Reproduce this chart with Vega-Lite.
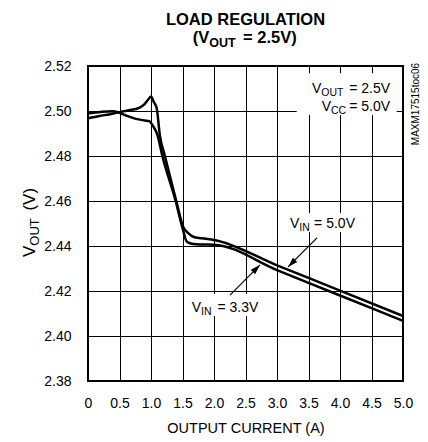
{
  "$schema": "https://vega.github.io/schema/vega-lite/v6.json",
  "width": 315,
  "height": 315,
  "autosize": {"type": "none"},
  "padding": {"left": 88, "top": 66, "right": 25, "bottom": 61},
  "background": "white",
  "title": {"text": "LOAD REGULATION", "fontSize": 16.5, "fontWeight": "bold", "color": "black", "anchor": "middle", "offset": 2},
  "config": {
    "font": "Liberation Sans",
    "view": {"stroke": "black", "strokeWidth": 2},
    "axis": {"domain": false, "ticks": false, "tickSize": 0, "grid": true, "gridColor": "black", "gridWidth": 1, "gridOpacity": 1, "labelColor": "black", "labelFontSize": 14, "titleColor": "black", "titleFontWeight": "normal", "labelFlush": false, "labelOverlap": false},
    "axisX": {"labelPadding": 15, "titleFontSize": 14.5, "titlePadding": 11},
    "axisY": {"labelPadding": 17}
  },
  "layer": [
    {
      "data": {"values": [
        {"x1": 3.313, "x2": 4.9, "y1": 2.4982, "y2": 2.5168},
        {"x1": 3.143, "x2": 4.302, "y1": 2.4462, "y2": 2.4547},
        {"x1": 1.571, "x2": 2.778, "y1": 2.4089, "y2": 2.4187}
      ]},
      "mark": {"type": "rect", "fill": "white", "opacity": 1},
      "encoding": {
        "x": {"field": "x1", "type": "quantitative", "scale": {"domain": [0, 5], "nice": false, "zero": false},
              "axis": {"values": [0, 0.5, 1, 1.5, 2, 2.5, 3, 3.5, 4, 4.5, 5], "labelExpr": "datum.value == 0 ? '0' : format(datum.value, '.1f')", "title": "OUTPUT CURRENT (A)"}},
        "x2": {"field": "x2"},
        "y": {"field": "y1", "type": "quantitative", "scale": {"domain": [2.38, 2.52], "nice": false, "zero": false},
              "axis": {"values": [2.38, 2.4, 2.42, 2.44, 2.46, 2.48, 2.5, 2.52], "format": ".2f", "title": null}},
        "y2": {"field": "y2"}
      }
    },
    {
      "data": {"values": [
        {"current": 0, "vout": 2.4968, "vin": "5.0V"},
        {"current": 0.18, "vout": 2.4978, "vin": "5.0V"},
        {"current": 0.35, "vout": 2.4986, "vin": "5.0V"},
        {"current": 0.5, "vout": 2.4995, "vin": "5.0V"},
        {"current": 0.65, "vout": 2.5003, "vin": "5.0V"},
        {"current": 0.81, "vout": 2.5014, "vin": "5.0V"},
        {"current": 0.89, "vout": 2.5028, "vin": "5.0V"},
        {"current": 0.95, "vout": 2.5049, "vin": "5.0V"},
        {"current": 1.0, "vout": 2.5064, "vin": "5.0V"},
        {"current": 1.04, "vout": 2.5042, "vin": "5.0V"},
        {"current": 1.09, "vout": 2.5013, "vin": "5.0V"},
        {"current": 1.14, "vout": 2.4893, "vin": "5.0V"},
        {"current": 1.22, "vout": 2.48, "vin": "5.0V"},
        {"current": 1.4, "vout": 2.4601, "vin": "5.0V"},
        {"current": 1.51, "vout": 2.4486, "vin": "5.0V"},
        {"current": 1.6, "vout": 2.4455, "vin": "5.0V"},
        {"current": 1.67, "vout": 2.4441, "vin": "5.0V"},
        {"current": 1.8, "vout": 2.4434, "vin": "5.0V"},
        {"current": 2.0, "vout": 2.4427, "vin": "5.0V"},
        {"current": 3.0, "vout": 2.4314, "vin": "5.0V"},
        {"current": 4.0, "vout": 2.4202, "vin": "5.0V"},
        {"current": 5.0, "vout": 2.4089, "vin": "5.0V"},
        {"current": 0, "vout": 2.499, "vin": "3.3V"},
        {"current": 0.2, "vout": 2.4996, "vin": "3.3V"},
        {"current": 0.39, "vout": 2.4999, "vin": "3.3V"},
        {"current": 0.5, "vout": 2.4992, "vin": "3.3V"},
        {"current": 0.62, "vout": 2.4978, "vin": "3.3V"},
        {"current": 0.76, "vout": 2.4965, "vin": "3.3V"},
        {"current": 0.9, "vout": 2.4958, "vin": "3.3V"},
        {"current": 0.97, "vout": 2.4955, "vin": "3.3V"},
        {"current": 1.04, "vout": 2.493, "vin": "3.3V"},
        {"current": 1.1, "vout": 2.4895, "vin": "3.3V"},
        {"current": 1.18, "vout": 2.48, "vin": "3.3V"},
        {"current": 1.39, "vout": 2.4601, "vin": "3.3V"},
        {"current": 1.5, "vout": 2.448, "vin": "3.3V"},
        {"current": 1.57, "vout": 2.4419, "vin": "3.3V"},
        {"current": 1.67, "vout": 2.4409, "vin": "3.3V"},
        {"current": 1.8, "vout": 2.4407, "vin": "3.3V"},
        {"current": 2.0, "vout": 2.4406, "vin": "3.3V"},
        {"current": 3.0, "vout": 2.4293, "vin": "3.3V"},
        {"current": 4.0, "vout": 2.418, "vin": "3.3V"},
        {"current": 5.0, "vout": 2.4067, "vin": "3.3V"}
      ]},
      "mark": {"type": "line", "color": "black", "strokeWidth": 2.5, "interpolate": "monotone"},
      "encoding": {
        "x": {"field": "current", "type": "quantitative", "scale": {"domain": [0, 5], "nice": false, "zero": false},
              "axis": {"values": [0, 0.5, 1, 1.5, 2, 2.5, 3, 3.5, 4, 4.5, 5], "labelExpr": "datum.value == 0 ? '0' : format(datum.value, '.1f')", "title": "OUTPUT CURRENT (A)"}},
        "y": {"field": "vout", "type": "quantitative", "scale": {"domain": [2.38, 2.52], "nice": false, "zero": false},
              "axis": {"values": [2.38, 2.4, 2.42, 2.44, 2.46, 2.48, 2.5, 2.52], "format": ".2f", "title": null}},
        "detail": {"field": "vin"}
      }
    },
    {
      "data": {"values": [
        {"x": 3.635, "y": 2.4436, "x2": 3.175, "y2": 2.4307},
        {"x": 2.254, "y": 2.4182, "x2": 2.73, "y2": 2.4316}
      ]},
      "mark": {"type": "rule", "color": "black", "strokeWidth": 1.2},
      "encoding": {
        "x": {"field": "x", "type": "quantitative", "scale": {"domain": [0, 5], "nice": false, "zero": false},
              "axis": {"values": [0, 0.5, 1, 1.5, 2, 2.5, 3, 3.5, 4, 4.5, 5], "labelExpr": "datum.value == 0 ? '0' : format(datum.value, '.1f')", "title": "OUTPUT CURRENT (A)"}},
        "y": {"field": "y", "type": "quantitative", "scale": {"domain": [2.38, 2.52], "nice": false, "zero": false},
              "axis": {"values": [2.38, 2.4, 2.42, 2.44, 2.46, 2.48, 2.5, 2.52], "format": ".2f", "title": null}},
        "x2": {"field": "x2"},
        "y2": {"field": "y2"}
      }
    },
    {
      "data": {"values": [{"x": 3.175, "y": 2.4307}]},
      "mark": {"type": "point", "shape": "M0,0L0.5,1.6L-0.5,1.6Z", "filled": true, "color": "black", "opacity": 1, "size": 156, "angle": 225, "strokeWidth": 0},
      "encoding": {
        "x": {"field": "x", "type": "quantitative", "scale": {"domain": [0, 5], "nice": false, "zero": false},
              "axis": {"values": [0, 0.5, 1, 1.5, 2, 2.5, 3, 3.5, 4, 4.5, 5], "labelExpr": "datum.value == 0 ? '0' : format(datum.value, '.1f')", "title": "OUTPUT CURRENT (A)"}},
        "y": {"field": "y", "type": "quantitative", "scale": {"domain": [2.38, 2.52], "nice": false, "zero": false},
              "axis": {"values": [2.38, 2.4, 2.42, 2.44, 2.46, 2.48, 2.5, 2.52], "format": ".2f", "title": null}}
      }
    },
    {
      "data": {"values": [{"x": 2.73, "y": 2.4316}]},
      "mark": {"type": "point", "shape": "M0,0L0.5,1.6L-0.5,1.6Z", "filled": true, "color": "black", "opacity": 1, "size": 156, "angle": 45, "strokeWidth": 0},
      "encoding": {
        "x": {"field": "x", "type": "quantitative", "scale": {"domain": [0, 5], "nice": false, "zero": false},
              "axis": {"values": [0, 0.5, 1, 1.5, 2, 2.5, 3, 3.5, 4, 4.5, 5], "labelExpr": "datum.value == 0 ? '0' : format(datum.value, '.1f')", "title": "OUTPUT CURRENT (A)"}},
        "y": {"field": "y", "type": "quantitative", "scale": {"domain": [2.38, 2.52], "nice": false, "zero": false},
              "axis": {"values": [2.38, 2.4, 2.42, 2.44, 2.46, 2.48, 2.5, 2.52], "format": ".2f", "title": null}}
      }
    },
    {
      "data": {"values": [
        {"x_start": 3.556, "x_end": 4.794, "y": 2.508, "v": "V", "sub": "OUT", "rest": " = 2.5V"},
        {"x_start": 3.709, "x_end": 4.794, "y": 2.5001, "v": "V", "sub": "CC", "rest": " = 5.0V"},
        {"x_start": 3.206, "x_end": 4.238, "y": 2.4479, "v": "V", "sub": "IN", "rest": " = 5.0V"},
        {"x_start": 1.646, "x_end": 2.703, "y": 2.4108, "v": "V", "sub": "IN", "rest": " = 3.3V"}
      ]},
      "layer": [
        {
          "mark": {"type": "text", "align": "left", "baseline": "alphabetic", "fontSize": 14, "color": "black"},
          "encoding": {
            "x": {"field": "x_start", "type": "quantitative", "scale": {"domain": [0, 5], "nice": false, "zero": false},
                  "axis": {"values": [0, 0.5, 1, 1.5, 2, 2.5, 3, 3.5, 4, 4.5, 5], "labelExpr": "datum.value == 0 ? '0' : format(datum.value, '.1f')", "title": "OUTPUT CURRENT (A)"}},
            "y": {"field": "y", "type": "quantitative", "scale": {"domain": [2.38, 2.52], "nice": false, "zero": false},
                  "axis": {"values": [2.38, 2.4, 2.42, 2.44, 2.46, 2.48, 2.5, 2.52], "format": ".2f", "title": null}},
            "text": {"field": "v"}
          }
        },
        {
          "mark": {"type": "text", "align": "left", "baseline": "alphabetic", "fontSize": 10.5, "dx": 9.3, "dy": 3, "color": "black"},
          "encoding": {
            "x": {"field": "x_start", "type": "quantitative", "scale": {"domain": [0, 5], "nice": false, "zero": false},
                  "axis": {"values": [0, 0.5, 1, 1.5, 2, 2.5, 3, 3.5, 4, 4.5, 5], "labelExpr": "datum.value == 0 ? '0' : format(datum.value, '.1f')", "title": "OUTPUT CURRENT (A)"}},
            "y": {"field": "y", "type": "quantitative", "scale": {"domain": [2.38, 2.52], "nice": false, "zero": false},
                  "axis": {"values": [2.38, 2.4, 2.42, 2.44, 2.46, 2.48, 2.5, 2.52], "format": ".2f", "title": null}},
            "text": {"field": "sub"}
          }
        },
        {
          "mark": {"type": "text", "align": "right", "baseline": "alphabetic", "fontSize": 14, "color": "black"},
          "encoding": {
            "x": {"field": "x_end", "type": "quantitative", "scale": {"domain": [0, 5], "nice": false, "zero": false},
                  "axis": {"values": [0, 0.5, 1, 1.5, 2, 2.5, 3, 3.5, 4, 4.5, 5], "labelExpr": "datum.value == 0 ? '0' : format(datum.value, '.1f')", "title": "OUTPUT CURRENT (A)"}},
            "y": {"field": "y", "type": "quantitative", "scale": {"domain": [2.38, 2.52], "nice": false, "zero": false},
                  "axis": {"values": [2.38, 2.4, 2.42, 2.44, 2.46, 2.48, 2.5, 2.52], "format": ".2f", "title": null}},
            "text": {"field": "rest"}
          }
        }
      ]
    },
    {
      "data": {"values": [
        {"x_start": 1.662, "x_end": 3.313, "y": 2.5302, "v": "(V", "sub": "OUT", "rest": " = 2.5V)"}
      ]},
      "layer": [
        {
          "mark": {"type": "text", "align": "left", "baseline": "alphabetic", "fontSize": 16.5, "fontWeight": "bold", "color": "black"},
          "encoding": {
            "x": {"field": "x_start", "type": "quantitative", "scale": {"domain": [0, 5], "nice": false, "zero": false},
                  "axis": {"values": [0, 0.5, 1, 1.5, 2, 2.5, 3, 3.5, 4, 4.5, 5], "labelExpr": "datum.value == 0 ? '0' : format(datum.value, '.1f')", "title": "OUTPUT CURRENT (A)"}},
            "y": {"field": "y", "type": "quantitative", "scale": {"domain": [2.38, 2.52], "nice": false, "zero": false},
                  "axis": {"values": [2.38, 2.4, 2.42, 2.44, 2.46, 2.48, 2.5, 2.52], "format": ".2f", "title": null}},
            "text": {"field": "v"}
          }
        },
        {
          "mark": {"type": "text", "align": "left", "baseline": "alphabetic", "fontSize": 12.5, "fontWeight": "bold", "dx": 16.5, "dy": 4, "color": "black"},
          "encoding": {
            "x": {"field": "x_start", "type": "quantitative", "scale": {"domain": [0, 5], "nice": false, "zero": false},
                  "axis": {"values": [0, 0.5, 1, 1.5, 2, 2.5, 3, 3.5, 4, 4.5, 5], "labelExpr": "datum.value == 0 ? '0' : format(datum.value, '.1f')", "title": "OUTPUT CURRENT (A)"}},
            "y": {"field": "y", "type": "quantitative", "scale": {"domain": [2.38, 2.52], "nice": false, "zero": false},
                  "axis": {"values": [2.38, 2.4, 2.42, 2.44, 2.46, 2.48, 2.5, 2.52], "format": ".2f", "title": null}},
            "text": {"field": "sub"}
          }
        },
        {
          "mark": {"type": "text", "align": "right", "baseline": "alphabetic", "fontSize": 16.5, "fontWeight": "bold", "color": "black"},
          "encoding": {
            "x": {"field": "x_end", "type": "quantitative", "scale": {"domain": [0, 5], "nice": false, "zero": false},
                  "axis": {"values": [0, 0.5, 1, 1.5, 2, 2.5, 3, 3.5, 4, 4.5, 5], "labelExpr": "datum.value == 0 ? '0' : format(datum.value, '.1f')", "title": "OUTPUT CURRENT (A)"}},
            "y": {"field": "y", "type": "quantitative", "scale": {"domain": [2.38, 2.52], "nice": false, "zero": false},
                  "axis": {"values": [2.38, 2.4, 2.42, 2.44, 2.46, 2.48, 2.5, 2.52], "format": ".2f", "title": null}},
            "text": {"field": "rest"}
          }
        }
      ]
    },
    {
      "data": {"values": [
        {"x": -0.841, "y_start": 2.4351, "y_end": 2.4658, "v": "V", "sub": "OUT", "rest": " (V)"}
      ]},
      "layer": [
        {
          "mark": {"type": "text", "align": "left", "baseline": "alphabetic", "angle": 270, "fontSize": 17, "color": "black"},
          "encoding": {
            "x": {"field": "x", "type": "quantitative", "scale": {"domain": [0, 5], "nice": false, "zero": false},
                  "axis": {"values": [0, 0.5, 1, 1.5, 2, 2.5, 3, 3.5, 4, 4.5, 5], "labelExpr": "datum.value == 0 ? '0' : format(datum.value, '.1f')", "title": "OUTPUT CURRENT (A)"}},
            "y": {"field": "y_start", "type": "quantitative", "scale": {"domain": [2.38, 2.52], "nice": false, "zero": false},
                  "axis": {"values": [2.38, 2.4, 2.42, 2.44, 2.46, 2.48, 2.5, 2.52], "format": ".2f", "title": null}},
            "text": {"field": "v"}
          }
        },
        {
          "mark": {"type": "text", "align": "left", "baseline": "alphabetic", "angle": 270, "fontSize": 13, "dx": 11.3, "dy": 3.5, "color": "black"},
          "encoding": {
            "x": {"field": "x", "type": "quantitative", "scale": {"domain": [0, 5], "nice": false, "zero": false},
                  "axis": {"values": [0, 0.5, 1, 1.5, 2, 2.5, 3, 3.5, 4, 4.5, 5], "labelExpr": "datum.value == 0 ? '0' : format(datum.value, '.1f')", "title": "OUTPUT CURRENT (A)"}},
            "y": {"field": "y_start", "type": "quantitative", "scale": {"domain": [2.38, 2.52], "nice": false, "zero": false},
                  "axis": {"values": [2.38, 2.4, 2.42, 2.44, 2.46, 2.48, 2.5, 2.52], "format": ".2f", "title": null}},
            "text": {"field": "sub"}
          }
        },
        {
          "mark": {"type": "text", "align": "right", "baseline": "alphabetic", "angle": 270, "fontSize": 17, "color": "black"},
          "encoding": {
            "x": {"field": "x", "type": "quantitative", "scale": {"domain": [0, 5], "nice": false, "zero": false},
                  "axis": {"values": [0, 0.5, 1, 1.5, 2, 2.5, 3, 3.5, 4, 4.5, 5], "labelExpr": "datum.value == 0 ? '0' : format(datum.value, '.1f')", "title": "OUTPUT CURRENT (A)"}},
            "y": {"field": "y_end", "type": "quantitative", "scale": {"domain": [2.38, 2.52], "nice": false, "zero": false},
                  "axis": {"values": [2.38, 2.4, 2.42, 2.44, 2.46, 2.48, 2.5, 2.52], "format": ".2f", "title": null}},
            "text": {"field": "rest"}
          }
        }
      ]
    },
    {
      "data": {"values": [{"x": 5.206, "y": 2.5031, "label": "MAXM17515toc06"}]},
      "mark": {"type": "text", "align": "center", "baseline": "middle", "angle": 270, "fontSize": 10, "color": "black"},
      "encoding": {
        "x": {"field": "x", "type": "quantitative", "scale": {"domain": [0, 5], "nice": false, "zero": false},
              "axis": {"values": [0, 0.5, 1, 1.5, 2, 2.5, 3, 3.5, 4, 4.5, 5], "labelExpr": "datum.value == 0 ? '0' : format(datum.value, '.1f')", "title": "OUTPUT CURRENT (A)"}},
        "y": {"field": "y", "type": "quantitative", "scale": {"domain": [2.38, 2.52], "nice": false, "zero": false},
              "axis": {"values": [2.38, 2.4, 2.42, 2.44, 2.46, 2.48, 2.5, 2.52], "format": ".2f", "title": null}},
        "text": {"field": "label"}
      }
    }
  ]
}
